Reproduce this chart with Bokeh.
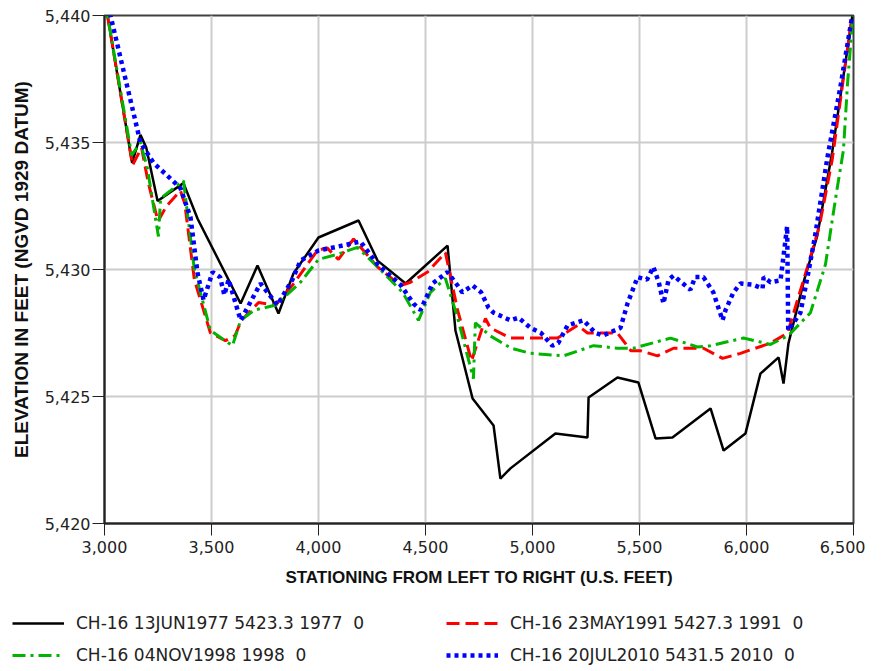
from bokeh.plotting import figure
from bokeh.models import (Range1d, FixedTicker, NumeralTickFormatter, Legend, LegendItem)
from bokeh.embed import file_html
from bokeh.resources import INLINE

# ---- data ----
x_1977 = [3000, 3129, 3168, 3195, 3248, 3369, 3435, 3636, 3715, 3813, 3883, 4000, 4187, 4276,
          4407, 4603, 4640, 4720, 4818, 4850, 4897, 5107, 5257, 5262, 5397, 5495, 5575, 5654,
          5832, 5893, 5995, 6065, 6150, 6173, 6196, 6270, 6330, 6400, 6500]
y_1977 = [5440.7, 5434.2, 5435.3, 5434.8, 5432.7, 5433.4, 5432.0, 5428.66, 5430.16, 5428.27,
          5429.84, 5431.26, 5431.93, 5430.35, 5429.45, 5430.94, 5427.6, 5424.92, 5423.86,
          5421.77, 5422.17, 5423.54, 5423.39, 5424.96, 5425.75, 5425.55, 5423.35, 5423.39,
          5424.53, 5422.87, 5423.54, 5425.9, 5426.54, 5425.51, 5427.09, 5429.6, 5431.3,
          5434.6, 5440.3]

x_1991 = [3000, 3131, 3173, 3205, 3250, 3290, 3355, 3375, 3420, 3495, 3565, 3610, 3640, 3720,
          3800, 3880, 3995, 4040, 4093, 4164, 4276, 4383, 4430, 4510, 4593, 4650, 4715, 4780,
          4803, 4897, 5117, 5210, 5257, 5397, 5460, 5505, 5584, 5659, 5799, 5888, 5972, 6112,
          6192, 6285, 6330, 6345, 6400, 6500]
y_1991 = [5440.7, 5434.1, 5434.8, 5433.4, 5431.9, 5432.5, 5433.1, 5432.6, 5429.6, 5427.5,
          5427.2, 5427.4, 5428.0, 5428.7, 5428.6, 5429.4, 5430.75, 5430.85, 5430.4, 5431.2,
          5430.1, 5429.37, 5429.5, 5429.9, 5430.67, 5428.4, 5426.4, 5428.07, 5427.7, 5427.3,
          5427.3, 5427.8, 5427.5, 5427.5, 5426.8, 5426.8, 5426.6, 5426.9, 5426.9, 5426.5,
          5426.7, 5427.1, 5427.5, 5430.1, 5431.4, 5431.9, 5434.3, 5440.4]

x_1998 = [3000, 3127, 3168, 3200, 3252, 3262, 3369, 3420, 3495, 3598, 3636, 3700, 3800, 3916,
          4000, 4089, 4182, 4276, 4393, 4467, 4523, 4593, 4650, 4724, 4733, 4800, 4900, 4990,
          5145, 5285, 5397, 5472, 5645, 5771, 5832, 5986, 6112, 6196, 6299, 6369, 6420, 6453,
          6472, 6500]
y_1998 = [5440.7, 5434.5, 5435.0, 5434.0, 5431.3, 5432.8, 5433.5, 5430.0, 5427.6, 5427.0,
          5428.0, 5428.4, 5428.6, 5429.5, 5430.4, 5430.6, 5430.87, 5430.1, 5429.1, 5428.0,
          5429.1, 5429.65, 5428.1, 5425.7, 5427.9, 5427.4, 5426.9, 5426.7, 5426.6, 5427.0,
          5426.9, 5426.9, 5427.3, 5426.95, 5427.0, 5427.3, 5427.05, 5427.4, 5428.3, 5430.2,
          5433.0, 5434.7, 5437.3, 5440.3]

x_2010 = [3000, 3168, 3229, 3318, 3355, 3402, 3435, 3463, 3505, 3540, 3560, 3580, 3636, 3729,
          3808, 3878, 3916, 4000, 4089, 4196, 4276, 4383, 4444, 4477, 4533, 4603, 4650, 4672,
          4720, 4760, 4794, 4818, 4897, 4935, 4991, 5040, 5093, 5120, 5164, 5238, 5294, 5330,
          5411, 5444, 5491, 5535, 5565, 5590, 5612, 5636, 5659, 5738, 5760, 5799, 5845, 5888,
          5902, 5939, 5972, 6030, 6075, 6080, 6112, 6159, 6190, 6195, 6252, 6285, 6320, 6378,
          6439, 6500]
y_2010 = [5441.0, 5435.0, 5434.2, 5433.5, 5433.2, 5432.05, 5429.85, 5428.8, 5429.9, 5429.7,
          5429.0, 5429.6, 5428.0, 5429.45, 5428.6, 5429.6, 5430.35, 5430.75, 5430.9, 5431.1,
          5430.2, 5429.4, 5428.66, 5428.4, 5429.45, 5429.9, 5429.37, 5429.1, 5429.37, 5429.1,
          5428.5, 5428.3, 5428.0, 5428.1, 5427.7, 5427.5, 5427.0, 5427.1, 5427.8, 5428.0,
          5427.5, 5427.4, 5427.7, 5428.66, 5429.7, 5429.6, 5430.1, 5429.5, 5428.66, 5429.6,
          5429.76, 5429.2, 5429.7, 5429.7, 5429.1, 5428.0, 5428.4, 5429.1, 5429.45, 5429.4,
          5429.25, 5429.7, 5429.5, 5429.57, 5431.7, 5427.6, 5428.3, 5429.7, 5431.3, 5434.4,
          5437.2, 5440.3]

labels = ["CH-16 13JUN1977 5423.3 1977  0",
          "CH-16 23MAY1991 5427.3 1991  0",
          "CH-16 04NOV1998 1998  0",
          "CH-16 20JUL2010 5431.5 2010  0"]

x_ticks = [3000, 3500, 4000, 4500, 5000, 5500, 6000, 6500]
y_ticks = [5420, 5425, 5430, 5435, 5440]

TICK_FONT = "DejaVu Sans"
TITLE_FONT = "Liberation Sans"

series = [(x_1977, y_1977), (x_1991, y_1991), (x_1998, y_1998), (x_2010, y_2010)]
styles = [dict(line_color="black", line_width=2.5),
          dict(line_color="#ff0000", line_width=3, line_dash="13 6"),
          dict(line_color="#00b400", line_width=3, line_dash="13 5 3 5"),
          dict(line_color="#0000ff", line_width=4.5, line_dash="4 4")]

p = figure(width=865, height=596, output_backend="svg", toolbar_location=None,
           x_range=Range1d(3000, 6500), y_range=Range1d(5420, 5440),
           min_border_left=104, min_border_right=12, min_border_top=15,
           min_border_bottom=73)
p.background_fill_color = "white"
p.border_fill_color = "white"
p.outline_line_color = "#404040"
p.outline_line_width = 2

for ax in (p.xaxis[0], p.yaxis[0]):
    ax.formatter = NumeralTickFormatter(format="0,0")
    ax.major_tick_out = 12
    ax.major_tick_in = 0
    ax.minor_tick_line_color = None
    ax.axis_line_color = "#222222"
    ax.axis_line_width = 2
    ax.major_tick_line_color = "#222222"
    ax.major_tick_line_width = 1
    ax.major_label_text_font = TICK_FONT
    ax.major_label_text_font_size = "16px"
    ax.major_label_text_color = "#222222"
    ax.axis_label_text_font = TITLE_FONT
    ax.axis_label_text_font_style = "bold"
    ax.axis_label_text_color = "#111111"

p.xaxis[0].ticker = FixedTicker(ticks=x_ticks)
p.yaxis[0].ticker = FixedTicker(ticks=y_ticks)
p.xaxis[0].axis_label = "STATIONING FROM LEFT TO RIGHT (U.S. FEET)"
p.yaxis[0].axis_label = "ELEVATION IN FEET (NGVD 1929 DATUM)"
p.xaxis[0].axis_label_text_font_size = "17px"
p.yaxis[0].axis_label_text_font_size = "19px"
p.xaxis[0].major_label_standoff = 5
p.yaxis[0].major_label_standoff = 2
p.xaxis[0].axis_label_standoff = 12
p.yaxis[0].axis_label_standoff = 10

p.grid.grid_line_color = "#cccccc"
p.grid.grid_line_width = 2
p.xgrid[0].ticker = FixedTicker(ticks=x_ticks)
p.ygrid[0].ticker = FixedTicker(ticks=y_ticks)

for (xs, ys), s in zip(series, styles):
    p.line(xs, ys, **s)

# ---- legend strip below the chart (same series, drawn out of view) ----
pl = figure(width=865, height=70, output_backend="svg", toolbar_location=None,
            x_range=Range1d(0, 1), y_range=Range1d(0, 1),
            x_axis_type=None, y_axis_type=None,
            min_border_left=0, min_border_right=0, min_border_top=0, min_border_bottom=0)
pl.grid.visible = False
pl.outline_line_color = None
pl.background_fill_color = "white"
pl.border_fill_color = "white"
legend_renderers = [pl.line(xs, ys, **s) for (xs, ys), s in zip(series, styles)]

# column-major filling: order so rows read 1977|1991 and 1998|2010
order = [0, 2, 1, 3]
legend = Legend(items=[LegendItem(label=labels[i], renderers=[legend_renderers[i]])
                       for i in order],
                ncols=2, location=(12, 0))
legend.glyph_width = 52
legend.glyph_height = 22
legend.label_height = 22
legend.label_width = 360
legend.label_standoff = 12
legend.spacing = 10
legend.padding = 0
legend.margin = 0
legend.border_line_color = None
legend.background_fill_alpha = 0
legend.label_text_font = TICK_FONT
legend.label_text_font_size = "17px"
legend.label_text_color = "#222222"
pl.add_layout(legend, "center")

# two separate roots, stacked, so the strip's frame is not aligned with the chart's
open("out.html", "w").write(file_html([p, pl], INLINE))
